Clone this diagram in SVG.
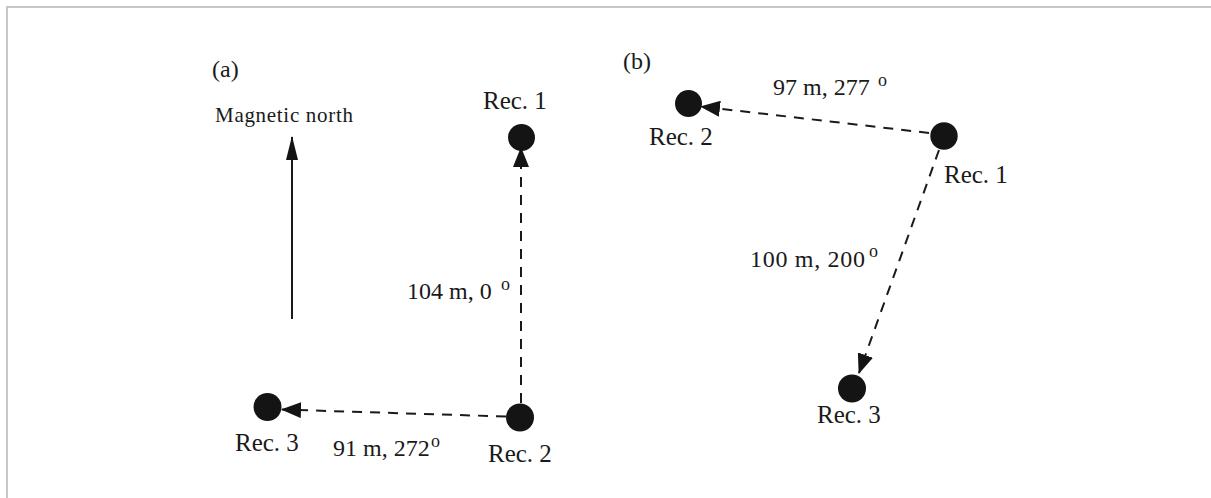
<svg xmlns="http://www.w3.org/2000/svg" width="1211" height="498" viewBox="0 0 1211 498">
  <style>
    text { font-family: "Liberation Serif", "Times New Roman", serif; fill: #1a1a1a; }
    .lbl { font-size: 25px; }
    .meas { font-size: 24px; }
    .sup { font-size: 18px; }
    .panel { font-size: 24px; }
    .node { fill: #141414; }
    .dash { stroke: #1a1a1a; stroke-width: 2; stroke-dasharray: 10 8; fill: none; }
    .solid { stroke: #1a1a1a; stroke-width: 2; fill: none; }
    .frame { stroke: #c8c8c8; stroke-width: 2; fill: none; }
  </style>
  <defs>
    <marker id="arr" viewBox="0 0 20 16" markerWidth="20" markerHeight="16" refX="19" refY="8" orient="auto" markerUnits="userSpaceOnUse">
      <path d="M0,0 L20,8 L0,16 Z" fill="#141414"/>
    </marker>
    <marker id="arrN" viewBox="0 0 24 12" markerWidth="24" markerHeight="12" refX="23" refY="6" orient="auto" markerUnits="userSpaceOnUse">
      <path d="M0,0 L24,6 L0,12 Z" fill="#141414"/>
    </marker>
  </defs>

  <rect width="1211" height="498" fill="#ffffff"/>
  <path class="frame" d="M7,498 L7,7 L1211,7"/>

  <g id="connectors">
    <line class="solid" x1="292" y1="319" x2="292" y2="137" marker-end="url(#arrN)"/>
    <line class="dash" x1="521" y1="403" x2="521" y2="148" marker-end="url(#arr)"/>
    <line class="dash" x1="506" y1="416.5" x2="282" y2="409.5" marker-end="url(#arr)"/>
    <line class="dash" x1="929" y1="133" x2="701" y2="106.5" marker-end="url(#arr)"/>
    <line class="dash" x1="939" y1="150" x2="859" y2="373" marker-end="url(#arr)"/>
  </g>

  <g id="panel-a-label"><text class="panel" x="212" y="77">(a)</text></g>
  <g id="magnetic-north"><text x="215" y="122" style="font-size:21px" textLength="138" lengthAdjust="spacing">Magnetic north</text></g>

  <g id="a-rec1">
    <circle class="node" cx="521.5" cy="137.5" r="13.5"/>
    <text class="lbl" x="483" y="109">Rec. 1</text>
  </g>
  <g id="a-rec2">
    <circle class="node" cx="520" cy="417.5" r="14"/>
    <text class="lbl" x="488" y="462">Rec. 2</text>
  </g>
  <g id="a-rec3">
    <circle class="node" cx="267.5" cy="407" r="14"/>
    <text class="lbl" x="235" y="451">Rec. 3</text>
  </g>

  <g id="a-label-north">
    <text class="meas" x="407" y="299">104 m, 0</text>
    <text class="sup" x="501" y="290">o</text>
  </g>
  <g id="a-label-west">
    <text class="meas" x="333" y="456">91 m, 272</text>
    <text class="sup" x="431" y="447">o</text>
  </g>

  <g id="panel-b-label"><text class="panel" x="623" y="69">(b)</text></g>

  <g id="b-rec1">
    <circle class="node" cx="944" cy="136" r="13.7"/>
    <text class="lbl" x="944" y="183">Rec. 1</text>
  </g>
  <g id="b-rec2">
    <circle class="node" cx="688.5" cy="103.5" r="13.5"/>
    <text class="lbl" x="649" y="145">Rec. 2</text>
  </g>
  <g id="b-rec3">
    <circle class="node" cx="852" cy="388.5" r="14"/>
    <text class="lbl" x="817" y="423">Rec. 3</text>
  </g>

  <g id="b-label-west">
    <text class="meas" x="773" y="95">97 m, 277</text>
    <text class="sup" x="878" y="86">o</text>
  </g>
  <g id="b-label-south">
    <text class="meas" x="750" y="267" textLength="115" lengthAdjust="spacing">100 m, 200</text>
    <text class="sup" x="869" y="257">o</text>
  </g>
</svg>
